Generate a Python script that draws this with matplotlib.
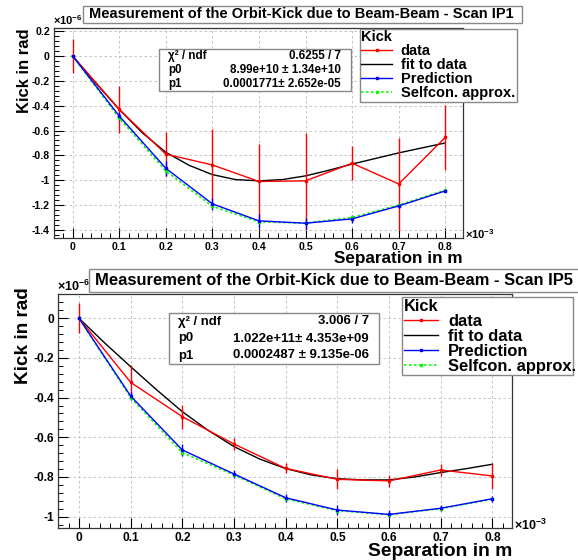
import matplotlib
matplotlib.use("Agg")
import matplotlib.pyplot as plt
from matplotlib.patches import Rectangle
from matplotlib.ticker import AutoMinorLocator, MultipleLocator, FuncFormatter

plt.rcParams["font.family"] = ["Liberation Sans", "DejaVu Sans"]
plt.rcParams["font.weight"] = "bold"
plt.rcParams["axes.unicode_minus"] = False
plt.rcParams["mathtext.fontset"] = "custom"
plt.rcParams["mathtext.rm"] = "Liberation Sans"
plt.rcParams["mathtext.it"] = "Liberation Sans"
plt.rcParams["mathtext.bf"] = "Liberation Sans:bold"

# separation in units of 1e-3 m, kicks in units of 1e-6 rad
sep = [0.0, 0.1, 0.2, 0.3, 0.4, 0.5, 0.6, 0.7, 0.8]
fit_sep = [0.0, 0.05, 0.1, 0.15, 0.2, 0.25, 0.3, 0.35, 0.4, 0.45,
           0.5, 0.55, 0.6, 0.65, 0.7, 0.75, 0.8]

# Scan IP1
ip1_data = [0.0, -0.43, -0.79, -0.877, -1.01, -1.005, -0.863, -1.03, -0.655]
ip1_data_err = [0.14, 0.19, 0.18, 0.29, 0.30, 0.385, 0.135, 0.37, 0.26]
ip1_fit = [0.0, -0.22, -0.43, -0.62, -0.775, -0.88, -0.955, -0.995, -1.005,
           -0.995, -0.965, -0.92, -0.87, -0.825, -0.78, -0.74, -0.70]
ip1_pred = [0.0, -0.483, -0.904, -1.19, -1.327, -1.346, -1.311, -1.207, -1.086]
ip1_pred_err = [0.01, 0.03, 0.06, 0.05, 0.056, 0.044, 0.03, 0.015, 0.012]
ip1_self = [0.0, -0.50, -0.925, -1.21, -1.335, -1.345, -1.30, -1.20, -1.08]
ip1_stats = [("\u03c7\u00b2 / ndf", "0.6255 / 7"),
             ("p0", "8.99e+10 \u00b1 1.34e+10"),
             ("p1", "0.0001771\u00b1 2.652e-05")]

# Scan IP5
ip5_data = [0.0, -0.323, -0.496, -0.634, -0.757, -0.812, -0.82, -0.765, -0.795]
ip5_data_err = [0.075, 0.085, 0.06, 0.032, 0.025, 0.05, 0.03, 0.03, 0.065]
ip5_fit = [0.0, -0.125, -0.244, -0.36, -0.471, -0.565, -0.647, -0.71, -0.758,
           -0.79, -0.809, -0.815, -0.815, -0.80, -0.778, -0.758, -0.736]
ip5_pred = [0.0, -0.392, -0.664, -0.785, -0.905, -0.967, -0.989, -0.958, -0.91]
ip5_pred_err = [0.01, 0.02, 0.028, 0.02, 0.02, 0.024, 0.02, 0.015, 0.015]
ip5_self = [0.0, -0.40, -0.678, -0.79, -0.91, -0.97, -0.99, -0.96, -0.912]
ip5_stats = [("\u03c7\u00b2 / ndf", "3.006 / 7"),
             ("p0", "1.022e+11\u00b1 4.353e+09"),
             ("p1", "0.0002487 \u00b1 9.135e-06")]

labels = ["data", "fit to data", "Prediction", "Selfcon. approx."]

W, H = 578, 560
fig = plt.figure(figsize=(W / 100, H / 100), dpi=100)


def fx(x):
    return x / W


def fy(y):
    return 1 - y / H


def box(x0, y0, x1, y1):
    fig.add_artist(Rectangle((fx(x0), fy(y1)), fx(x1) - fx(x0), fy(y0) - fy(y1),
                             transform=fig.transFigure, fc="white", ec="#888888",
                             lw=1.0, zorder=10))


def panel(rect, ylim, ystep, d, derr, fit, pred, perr, selfc, stats, s,
          title, tbox, lbox, sbox, xlab_y, ylab_x, ylab_top, exp6, exp3):
    ax = fig.add_axes(rect)
    ms = 1.6
    ax.errorbar(sep, d, yerr=derr, color="red", lw=1.0, marker="s", ms=ms,
                elinewidth=1.0, capsize=0, zorder=4)
    ax.plot(fit_sep, fit, color="black", lw=1.0, zorder=3)
    ax.errorbar(sep, pred, yerr=perr, color="blue", lw=1.0, marker="s", ms=ms,
                elinewidth=1.0, capsize=0, zorder=5)
    ax.plot(sep, selfc, color="#00ff00", lw=1.2, ls=(0, (1.5, 1.5)),
            marker="s", ms=ms, zorder=5)
    h = [plt.Line2D([], [], color="red", lw=1.0, marker="s", ms=ms),
         plt.Line2D([], [], color="black", lw=1.0),
         plt.Line2D([], [], color="blue", lw=1.0, marker="s", ms=ms),
         plt.Line2D([], [], color="#00ff00", lw=1.2, ls=(0, (1.5, 1.5)),
                    marker="s", ms=ms)]

    ax.set_xlim(-0.04, 0.838)
    ax.set_ylim(*ylim)
    ax.xaxis.set_major_locator(MultipleLocator(0.1))
    ax.yaxis.set_major_locator(MultipleLocator(ystep))
    ax.xaxis.set_minor_locator(AutoMinorLocator(5))
    ax.yaxis.set_minor_locator(AutoMinorLocator(5))
    fmt = FuncFormatter(lambda v, p: "%g" % round(v, 6))
    ax.xaxis.set_major_formatter(fmt)
    ax.yaxis.set_major_formatter(fmt)
    ax.tick_params(which="major", direction="in", length=7, width=0.8,
                   labelsize=7.6 * s, pad=3)
    ax.tick_params(which="minor", direction="in", length=3.5, width=0.7)
    ax.grid(True, which="major", color="#bbbbbb", ls=(0, (3, 3)), lw=0.6)
    for sp in ax.spines.values():
        sp.set_linewidth(0.9)
        sp.set_color("#333333")

    # axis titles and exponents
    fig.text(rect[0] + rect[2], xlab_y, "Separation in m",
             ha="right", va="center", fontsize=12.3 * s)
    fig.text(ylab_x, ylab_top, "Kick in rad", rotation=90, ha="center",
             va="top", fontsize=12 * s)
    fig.text(exp6[0], exp6[1], r"$\times10^{-6}$", fontsize=8 * s,
             ha="left", va="center", fontweight="normal")
    fig.text(exp3[0], exp3[1], r"$\times10^{-3}$", fontsize=8 * s,
             ha="left", va="center", fontweight="normal")

    # title box
    box(*tbox)
    fig.text(fx(tbox[0] + 6), (fy(tbox[1]) + fy(tbox[3])) / 2, title,
             ha="left", va="center", fontsize=10.5 * s, zorder=11)

    # stats box
    box(*sbox)
    n = len(stats)
    rh = (sbox[3] - sbox[1]) / n
    for i, (k, v) in enumerate(stats):
        yy = fy(sbox[1] + rh * (i + 0.5))
        fig.text(fx(sbox[0] + 9), yy, k, ha="left", va="center",
                 fontsize=8.4 * s, zorder=11)
        fig.text(fx(sbox[2] - 10), yy, v, ha="right", va="center",
                 fontsize=8.4 * s, zorder=11)

    # legend
    leg = fig.legend(h, labels, loc="upper left",
                     bbox_to_anchor=(fx(lbox[0]), fy(lbox[1]),
                                     fx(lbox[2]) - fx(lbox[0]), 0),
                     mode="expand", title="Kick", alignment="left",
                     title_fontproperties={"weight": "bold", "size": 10.5 * s},
                     prop={"weight": "bold", "size": 10.5 * s},
                     frameon=True, fancybox=False, edgecolor="#888888",
                     framealpha=1, borderpad=0.1, labelspacing=0.0,
                     handlelength=2.1, handletextpad=0.6, borderaxespad=0)
    leg.get_frame().set_linewidth(1.0)
    leg.set_zorder(12)
    return ax


panel([fx(54), fy(238), fx(463) - fx(54), fy(28) - fy(238)],
      (-1.465, 0.225), 0.2,
      ip1_data, ip1_data_err, ip1_fit, ip1_pred, ip1_pred_err, ip1_self,
      ip1_stats, 1.0,
      "Measurement of the Orbit-Kick due to Beam-Beam - Scan IP1",
      (83, 6, 522, 23), (360, 29, 517, 101), (159, 49, 351, 91),
      fy(259), fx(25), fy(28), (fx(53), fy(20)), (fx(465), fy(234)))

panel([fx(58.3), fy(527.7), fx(512) - fx(58.3), fy(294) - fy(527.7)],
      (-1.056, 0.1225), 0.2,
      ip5_data, ip5_data_err, ip5_fit, ip5_pred, ip5_pred_err, ip5_self,
      ip5_stats, 1.13,
      "Measurement of the Orbit-Kick due to Beam-Beam - Scan IP5",
      (89, 269, 600, 292), (402, 297, 573, 380), (169, 313, 379, 364),
      fy(551), fx(24), fy(287), (fx(57), fy(286)), (fx(514), fy(525)))

fig.savefig("out.png", dpi=100)
